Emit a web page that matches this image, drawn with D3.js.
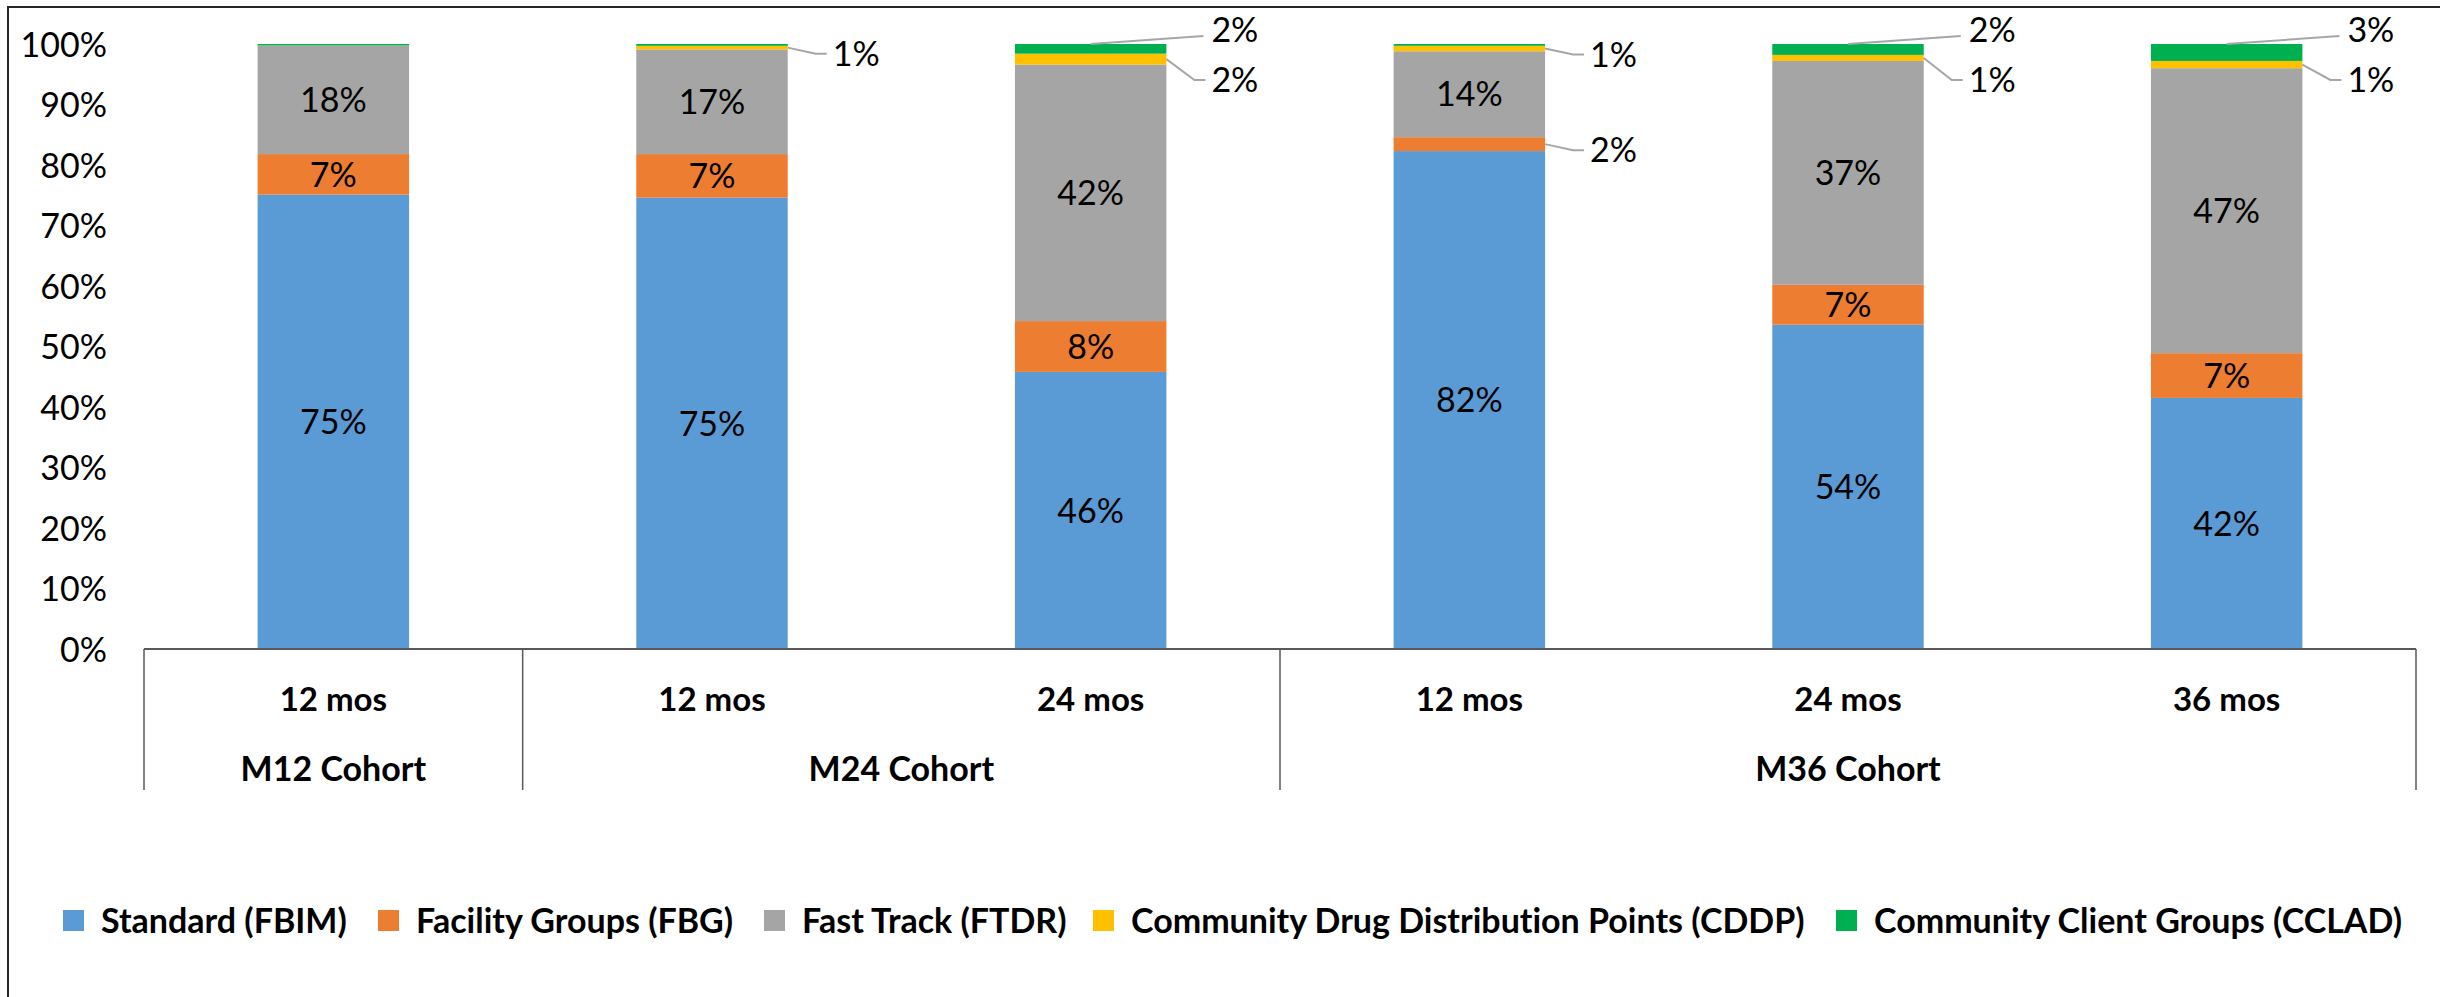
<!DOCTYPE html>
<html>
<head>
<meta charset="utf-8">
<script src="https://cdnjs.cloudflare.com/ajax/libs/d3/7.8.5/d3.min.js"></script>
<style>
  body { margin: 0; background: #fff; }
  text { font-family: Lato, "Open Sans", sans-serif; fill: #000; font-variant-ligatures: none; }
</style>
</head>
<body>
<script>
// chart values (percent of patients per model)
const periods = ["12 mos", "12 mos", "24 mos", "12 mos", "24 mos", "36 mos"]
const cohorts = ["M12 Cohort", "M24 Cohort", "M24 Cohort", "M36 Cohort", "M36 Cohort", "M36 Cohort"]
const seriesNames = ["Standard (FBIM)", "Facility Groups (FBG)", "Fast Track (FTDR)",
    "Community Drug Distribution Points (CDDP)", "Community Client Groups (CCLAD)"]
const standard = [75.1, 74.6, 45.8, 82.3, 53.6, 41.5]
const facility = [6.7, 7.2, 8.4, 2.3, 6.6, 7.4]
const fastTrack = [17.9, 17.3, 42.4, 14.2, 37.0, 47.1]
const cddp = [0.05, 0.6, 1.8, 0.9, 1.0, 1.2]
const cclad = [0.25, 0.3, 1.6, 0.3, 1.8, 2.8]
const yTicks = [0, 10, 20, 30, 40, 50, 60, 70, 80, 90, 100]

const colors = ["#5B9BD5", "#ED7D31", "#A5A5A5", "#FFC000", "#00B050"]
const seriesValues = [standard, facility, fastTrack, cddp, cclad]

let svgWidth = 2440
let svgHeight = 997

let plotLeft = 144, plotRight = 2416, plotTop = 44, plotBottom = 649

var svg = d3.select("body")
    .append("svg")
    .attr("width", svgWidth)
    .attr("height", svgHeight)

// outer chart border (right / bottom fall outside the picture)
svg.append("rect")
    .attr("x", 8).attr("y", 7)
    .attr("width", svgWidth).attr("height", svgHeight)
    .attr("fill", "none")
    .attr("stroke", "#262626")
    .attr("stroke-width", 2)

var x = d3.scaleBand()
    .domain(d3.range(periods.length))
    .range([plotLeft, plotRight])
    .paddingInner(0.6)
    .paddingOuter(0.3)

var y = d3.scaleLinear()
    .domain([0, 100])
    .range([plotBottom, plotTop])

// y axis: labels only, no line
var yAxis = svg.append("g")
    .attr("transform", `translate(${plotLeft - 37},0)`)
    .call(d3.axisLeft(y).tickValues(yTicks).tickSize(0).tickPadding(0).tickFormat(d => d + "%"))
yAxis.select(".domain").remove()
yAxis.selectAll("text")
    .style("font-size", "34px")
    .attr("dy", "0.36em")

// stack rows
let rows = periods.map((p, i) => {
    let r = {i: i}
    seriesNames.forEach((s, k) => r[s] = seriesValues[k][i])
    return r
})
var stack = d3.stack().keys(seriesNames)
var layers = stack(rows)

var layer = svg.append("g")
    .selectAll("g")
    .data(layers)
    .enter()
    .append("g")
    .attr("fill", (d, k) => colors[k])

layer.selectAll("rect")
    .data(d => d)
    .enter()
    .append("rect")
    .attr("x", d => x(d.data.i))
    .attr("width", x.bandwidth())
    .attr("y", d => y(d[1]))
    .attr("height", d => y(d[0]) - y(d[1]))

// data labels
let fmt = v => Math.round(v) + "%"
let labelG = svg.append("g")
let leaderG = svg.append("g")
    .attr("fill", "none")
    .attr("stroke", "#A6A6A6")
    .attr("stroke-width", 2)

periods.forEach((p, i) => {
    let cx = x(i) + x.bandwidth() / 2
    let right = x(i) + x.bandwidth()
    let prevY = -Infinity
    // go from top series downwards so outside labels stack nicely
    for (let k = layers.length - 1; k >= 0; k--) {
        let seg = layers[k][i]
        let v = seg[1] - seg[0]
        let mid = (y(seg[0]) + y(seg[1])) / 2
        if (v >= 3) {
            labelG.append("text")
                .attr("x", cx)
                .attr("y", mid)
                .attr("dy", "0.36em")
                .attr("text-anchor", "middle")
                .style("font-size", "34px")
                .text(fmt(v))
        } else if (v >= 0.5) {
            let lx = right + 45
            let ly
            if (k === layers.length - 1) {
                ly = y(seg[1]) - 14
                leaderG.append("path")
                    .attr("d", `M${cx},${y(seg[1])}L${lx - 8},${ly + 6}`)
            } else {
                ly = Math.max(mid + 6, prevY + 50)
                leaderG.append("path")
                    .attr("d", `M${right},${mid}L${right + 28},${ly}L${lx - 6},${ly}`)
            }
            prevY = ly
            labelG.append("text")
                .attr("x", lx)
                .attr("y", ly)
                .attr("dy", "0.36em")
                .style("font-size", "34px")
                .text(fmt(v))
        }
    }
})

// category axis with two levels
let axisColor = "#595959"
let catBottom = 790
svg.append("line")
    .attr("x1", plotLeft).attr("x2", plotRight)
    .attr("y1", plotBottom).attr("y2", plotBottom)
    .attr("stroke", axisColor).attr("stroke-width", 2)

svg.append("g")
    .selectAll("text")
    .data(periods)
    .enter()
    .append("text")
    .attr("x", (d, i) => x(i) + x.bandwidth() / 2)
    .attr("y", 699)
    .attr("dy", "0.36em")
    .attr("text-anchor", "middle")
    .style("font-size", "33px")
    .style("font-weight", "bold")
    .text(d => d)

// group cohorts
let groups = []
cohorts.forEach((c, i) => {
    let g = groups.find(g => g.name === c)
    if (g) g.end = i
    else groups.push({name: c, start: i, end: i})
})
let step = x.step()
let groupEdge = i => plotLeft + i * step

let edges = [0].concat(groups.map(g => g.end + 1))
svg.append("g")
    .selectAll("line")
    .data(edges)
    .enter()
    .append("line")
    .attr("x1", d => groupEdge(d)).attr("x2", d => groupEdge(d))
    .attr("y1", plotBottom).attr("y2", catBottom)
    .attr("stroke", axisColor).attr("stroke-width", 1.5)

svg.append("g")
    .selectAll("text")
    .data(groups)
    .enter()
    .append("text")
    .attr("x", g => (groupEdge(g.start) + groupEdge(g.end + 1)) / 2)
    .attr("y", 769)
    .attr("dy", "0.36em")
    .attr("text-anchor", "middle")
    .style("font-size", "34px")
    .style("font-weight", "bold")
    .text(g => g.name)

// legend
let legendX = [63, 378, 764, 1093, 1836]
let legend = svg.append("g")
    .selectAll("g")
    .data(seriesNames)
    .enter()
    .append("g")
    .attr("transform", (d, k) => `translate(${legendX[k]},921)`)
legend.append("rect")
    .attr("x", 0).attr("y", -11)
    .attr("width", 21).attr("height", 21)
    .attr("fill", (d, k) => colors[k])
legend.append("text")
    .attr("x", 38)
    .attr("y", 0)
    .attr("dy", "0.36em")
    .style("font-size", "34px")
    .style("font-weight", "bold")
    .text(d => d)
</script>
</body>
</html>
